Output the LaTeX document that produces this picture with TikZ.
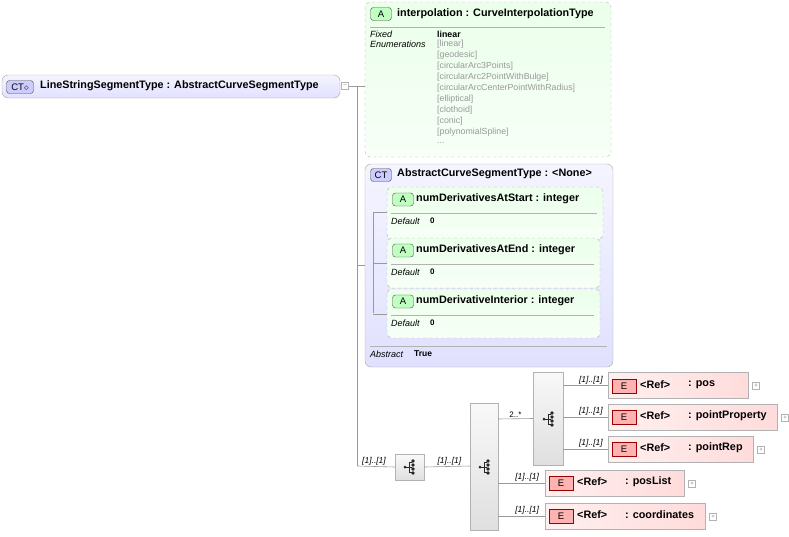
\documentclass[tikz,border=0pt]{standalone}
\usepackage{fontspec}
\setmainfont{Liberation Sans}
\begin{document}
\begin{tikzpicture}[x=1pt,y=-1pt,
  lbl/.style={font=\fontsize{10.8}{11}\selectfont\bfseries,anchor=west,inner sep=0},
  small/.style={font=\fontsize{9}{9}\selectfont\itshape,anchor=west,inner sep=0},
  val/.style={font=\fontsize{8.8}{9}\selectfont,anchor=west,inner sep=0,text=gray!80},
  card/.style={font=\fontsize{8.5}{9}\selectfont\itshape,anchor=south,inner sep=1},
  conn/.style={draw=gray!80,line width=0.6pt},
  ctbox/.style={draw=gray!70,rounded corners=6pt,left color=blue!4,right color=blue!12,shading angle=0},
  abox/.style={draw=gray!60,dashed,rounded corners=5pt,top color=green!8,bottom color=green!3!white},
  ebox/.style={draw=gray!60,left color=red!6,right color=red!14},
  grp/.style={draw=gray!60,top color=gray!5,bottom color=gray!25},
  icon/.style={draw=gray!60!black,rounded corners=3pt,font=\fontsize{9.5}{9}\selectfont,inner sep=0,minimum width=21pt,minimum height=13pt},
  plus/.style={draw=gray!60,fill=white,minimum size=7pt,inner sep=0,font=\fontsize{6}{6}\selectfont,text=gray},
  pics/grpsym/.style={code={
    \fill[gray!30!black] (-5,0) circle (1.5);
    \draw[gray!30!black,line width=0.7pt] (-5,0) -- (-1,0) (-1,-5) -- (-1,5) -- (2,5) (-1,-5) -- (2,-5) (-1,0) -- (2,0);
    \foreach \yy in {-6,-2,2,6} \fill[gray!30!black] (3,\yy) circle (1.8);
  }}]
\useasboundingbox (0,0) rectangle (789,536);
% root
\draw[ctbox] (2,75) rectangle (340,98);
\node[icon,fill=blue!20,minimum width=27pt] (cticon) at (20,87) {CT$\diamond$};
\node[lbl] (root) at (40,86) {LineStringSegmentType : AbstractCurveSegmentType};
\node[plus] (rootminus) at (345,86) {--};
\coordinate (bus) at (357,86);
\draw[conn] (rootminus.east) -- (bus);
\draw[conn] (357,86) -- (357,466);
% interpolation
\draw[abox] (365,2) rectangle (611,157);
\draw[conn] (357,86) -- (365,86);
\node[icon,fill=green!25] at (381,14) {A};
\node[lbl] (interp) at (397,14) {interpolation : CurveInterpolationType};
\draw[gray!60] (370,27) -- (605,27);
\node[small] at (370,34) {Fixed};
\node[small] at (370,44) {Enumerations};
\node[val,text=black,font=\fontsize{8.8}{9}\selectfont\bfseries] at (437,34) {linear};
\foreach \t [count=\i] in {[linear],[geodesic],[circularArc3Points],[circularArc2PointWithBulge],[circularArcCenterPointWithRadius],[elliptical],[clothoid],[conic],[polynomialSpline]}
  \node[val] at (437,{33+11*\i}) {\t};
\node[val] at (437,143) {...};
% abstract CT
\draw[ctbox] (365,164) rectangle (613,367);
\draw[conn] (357,265) -- (365,265);
\node[icon,fill=blue!20] at (381,175) {CT};
\node[lbl] (acst) at (397,174) {AbstractCurveSegmentType : <None>};
\draw[conn] (373,212) -- (373,313);
\foreach \ya/\yb/\xr/\nm in {187/239/603/numDerivativesAtStart,238/288/600/numDerivativesAtEnd,289/338/600/numDerivativeInterior}{
  \draw[abox] (387,\ya) rectangle (\xr,\yb);
  \draw[conn] (373,\ya+25) -- (387,\ya+25);
  \node[icon,fill=green!25] at (403,\ya+12.5) {A};
  \node[lbl] at (416,\ya+12) {\nm\ : integer};
  \draw[gray!60] (391,\ya+26.5) -- (\xr-6,\ya+26.5);
  \node[small] at (391,\ya+34.5) {Default};
  \node[val,text=black,font=\fontsize{8}{8}\selectfont\bfseries] at (430,\ya+34) {0};
}
\draw[gray!60] (370,346) -- (607,346);
\node[small] at (370,354) {Abstract};
\node[val,text=black,font=\fontsize{8.5}{8}\selectfont\bfseries] at (414,353.5) {True};
% sequence
\node[grp,minimum width=29pt,minimum height=26pt,inner sep=0] (seq) at (409.5,467) {};
\pic at (410,467) {grpsym};
\draw[conn] (357,466) -- (seq.west) node[card,pos=0.45] {[1]..[1]};
\node[grp,minimum width=28pt,minimum height=127pt,inner sep=0] (choice) at (484,466.5) {};
\pic at (485,467) {grpsym};
\draw[conn] (seq.east) -- (470,466) node[card,pos=0.55] {[1]..[1]};
\node[grp,minimum width=30pt,minimum height=93pt,inner sep=0] (iseq) at (548,418.5) {};
\pic at (549,419) {grpsym};
\draw[conn] (498,419) -- (iseq.west) node[card,pos=0.5,font=\fontsize{8}{8}\selectfont] {2..*};
% elements
\foreach \xl/\xr/\yc/\xs/\nm in {608/748/385.5/563/pos,608/777/417/563/pointProperty,608/753/449/563/pointRep,545/684/483/498/posList,545/705/516/498/coordinates}{
  \draw[ebox] (\xl,\yc-13) rectangle (\xr,\yc+13);
  \draw[conn] (\xs,\yc) -- (\xl,\yc) node[card,pos=0.62] {[1]..[1]};
  \node[icon,fill=red!30,draw=red!60!black,minimum width=24pt,minimum height=14pt,rounded corners=0pt] at (\xl+16,\yc+0.5) {E};
  \node[lbl] at (\xl+32,\yc-1) {<Ref>};
  \node[lbl] at (\xl+80,\yc-1) {: \nm};
  \node[plus] at (\xr+8,\yc+0.5) {+};
}
\end{tikzpicture}
\end{document}
